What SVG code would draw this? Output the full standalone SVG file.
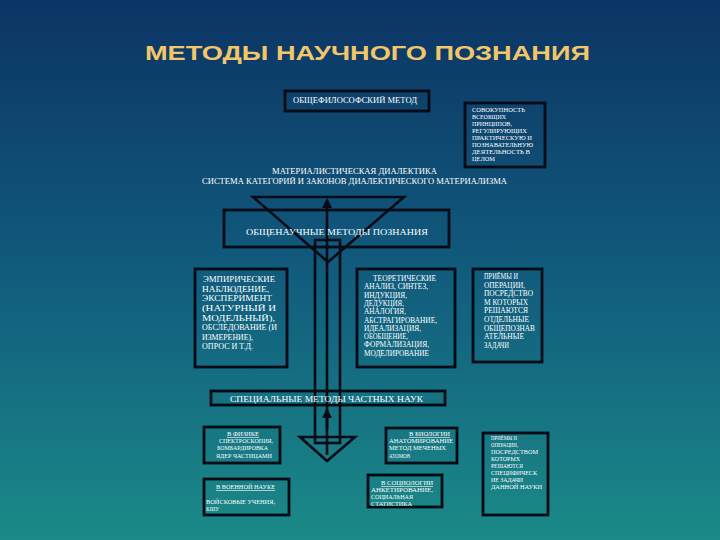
<svg xmlns="http://www.w3.org/2000/svg" width="720" height="540" viewBox="0 0 720 540">
<defs>
<linearGradient id="bg" x1="0" y1="0" x2="0" y2="1">
<stop offset="0" stop-color="#0c3464"/>
<stop offset="0.5" stop-color="#115b7d"/>
<stop offset="1" stop-color="#1b8a88"/>
</linearGradient>
<marker id="ah" viewBox="0 0 10 10" refX="8" refY="5" markerWidth="4" markerHeight="4" orient="auto">
<path d="M0,0 L10,5 L0,10 z" fill="#060a14"/>
</marker>
</defs>
<style>
.box{fill:none;stroke:#070b16;stroke-width:2.8}
.ln{fill:none;stroke:#070b16;stroke-width:2.6}
.t{font-family:"Liberation Serif","DejaVu Serif",serif;fill:#ffffff;font-size:8.2px}
.c{font-family:"Liberation Serif","DejaVu Serif",serif;fill:#ffffff;font-size:7.6px}
.s{font-family:"Liberation Serif","DejaVu Serif",serif;fill:#ffffff;font-size:6.2px}
.u{text-decoration:underline}
.title{font-family:"Liberation Sans","DejaVu Sans",sans-serif;font-weight:bold;font-size:21px;fill:#f3c66a}
</style>
<rect x="0" y="0" width="720" height="540" fill="url(#bg)"/>
<text class="title" x="145" y="60" textLength="445" lengthAdjust="spacingAndGlyphs">МЕТОДЫ НАУЧНОГО ПОЗНАНИЯ</text>

<g id="connectors">
<polygon class="ln" points="253,197 404,197 328,262"/>
<rect class="ln" x="315" y="240" width="25" height="203"/>
<polygon class="ln" points="300,437 355,437 327,461"/>
<line class="ln" x1="327" y1="455" x2="327" y2="200" marker-end="url(#ah)"/>
<line class="ln" x1="327" y1="430" x2="327" y2="410" marker-end="url(#ah)"/>
</g>

<g id="philos">
<rect class="box" x="285" y="91" width="144" height="20"/>
<text class="t" x="293" y="103" textLength="124" lengthAdjust="spacingAndGlyphs">ОБЩЕФИЛОСОФСКИЙ МЕТОД</text>
</g>

<g id="philos-note">
<rect class="box" x="465" y="103" width="80" height="64"/>
<text class="s" x="472" y="112" textLength="53" lengthAdjust="spacingAndGlyphs">СОВОКУПНОСТЬ</text>
<text class="s" x="472" y="119" textLength="34" lengthAdjust="spacingAndGlyphs">ВСЕОБЩИХ</text>
<text class="s" x="472" y="126" textLength="40" lengthAdjust="spacingAndGlyphs">ПРИНЦИПОВ,</text>
<text class="s" x="472" y="133" textLength="55" lengthAdjust="spacingAndGlyphs">РЕГУЛИРУЮЩИХ</text>
<text class="s" x="472" y="140" textLength="60" lengthAdjust="spacingAndGlyphs">ПРАКТИЧЕСКУЮ И</text>
<text class="s" x="472" y="147" textLength="61" lengthAdjust="spacingAndGlyphs">ПОЗНАВАТЕЛЬНУЮ</text>
<text class="s" x="472" y="154" textLength="58" lengthAdjust="spacingAndGlyphs">ДЕЯТЕЛЬНОСТЬ В</text>
<text class="s" x="472" y="161" textLength="23" lengthAdjust="spacingAndGlyphs">ЦЕЛОМ</text>
</g>

<g id="dialectic">
<text class="t" x="272" y="174" textLength="165" lengthAdjust="spacingAndGlyphs">МАТЕРИАЛИСТИЧЕСКАЯ ДИАЛЕКТИКА</text>
<text class="t" x="202" y="184" textLength="305" lengthAdjust="spacingAndGlyphs">СИСТЕМА КАТЕГОРИЙ И ЗАКОНОВ ДИАЛЕКТИЧЕСКОГО МАТЕРИАЛИЗМА</text>
</g>

<g id="general">
<rect class="box" x="224" y="210" width="225" height="37"/>
<text class="t" x="246" y="235" textLength="182" lengthAdjust="spacingAndGlyphs">ОБЩЕНАУЧНЫЕ   МЕТОДЫ ПОЗНАНИЯ</text>
</g>

<g id="empirical">
<rect class="box" x="195" y="269" width="92" height="98"/>
<text class="t" x="203" y="282" textLength="72" lengthAdjust="spacingAndGlyphs">ЭМПИРИЧЕСКИЕ</text>
<text class="t" x="202" y="291.5" textLength="67" lengthAdjust="spacingAndGlyphs">НАБЛЮДЕНИЕ,</text>
<text class="t" x="202" y="301" textLength="70" lengthAdjust="spacingAndGlyphs">ЭКСПЕРИМЕНТ</text>
<text class="t" x="202" y="311" textLength="74" lengthAdjust="spacingAndGlyphs">(НАТУРНЫЙ И</text>
<text class="t" x="202" y="320.5" textLength="73" lengthAdjust="spacingAndGlyphs">МОДЕЛЬНЫЙ),</text>
<text class="t" x="202" y="330" textLength="75" lengthAdjust="spacingAndGlyphs">ОБСЛЕДОВАНИЕ (И</text>
<text class="t" x="202" y="339.5" textLength="51" lengthAdjust="spacingAndGlyphs">ИЗМЕРЕНИЕ),</text>
<text class="t" x="202" y="349" textLength="51" lengthAdjust="spacingAndGlyphs">ОПРОС И Т.Д.</text>
</g>

<g id="theoretical">
<rect class="box" x="357" y="269" width="98" height="98"/>
<text class="c" x="373" y="281" textLength="63" lengthAdjust="spacingAndGlyphs">ТЕОРЕТИЧЕСКИЕ</text>
<text class="c" x="364" y="289.3" textLength="64" lengthAdjust="spacingAndGlyphs">АНАЛИЗ, СИНТЕЗ,</text>
<text class="c" x="364" y="297.6" textLength="43" lengthAdjust="spacingAndGlyphs">ИНДУКЦИЯ,</text>
<text class="c" x="364" y="305.9" textLength="40" lengthAdjust="spacingAndGlyphs">ДЕДУКЦИЯ,</text>
<text class="c" x="364" y="314.2" textLength="42" lengthAdjust="spacingAndGlyphs">АНАЛОГИЯ,</text>
<text class="c" x="364" y="322.5" textLength="73" lengthAdjust="spacingAndGlyphs">АБСТРАГИРОВАНИЕ,</text>
<text class="c" x="364" y="330.8" textLength="57" lengthAdjust="spacingAndGlyphs">ИДЕАЛИЗАЦИЯ,</text>
<text class="c" x="364" y="339.1" textLength="44" lengthAdjust="spacingAndGlyphs">ОБОБЩЕНИЕ,</text>
<text class="c" x="364" y="347.4" textLength="65" lengthAdjust="spacingAndGlyphs">ФОРМАЛИЗАЦИЯ,</text>
<text class="c" x="364" y="355.7" textLength="65" lengthAdjust="spacingAndGlyphs">МОДЕЛИРОВАНИЕ</text>
</g>

<g id="general-note">
<rect class="box" x="473" y="269" width="69" height="93"/>
<text class="c" x="484" y="279" textLength="34" lengthAdjust="spacingAndGlyphs">ПРИЁМЫ И</text>
<text class="c" x="484" y="287.6" textLength="41" lengthAdjust="spacingAndGlyphs">ОПЕРАЦИИ,</text>
<text class="c" x="484" y="296.2" textLength="49" lengthAdjust="spacingAndGlyphs">ПОСРЕДСТВО</text>
<text class="c" x="484" y="304.8" textLength="44" lengthAdjust="spacingAndGlyphs">М КОТОРЫХ</text>
<text class="c" x="484" y="313.4" textLength="44" lengthAdjust="spacingAndGlyphs">РЕШАЮТСЯ</text>
<text class="c" x="484" y="322" textLength="45" lengthAdjust="spacingAndGlyphs">ОТДЕЛЬНЫЕ</text>
<text class="c" x="484" y="330.6" textLength="51" lengthAdjust="spacingAndGlyphs">ОБЩЕПОЗНАВ</text>
<text class="c" x="484" y="339.2" textLength="40" lengthAdjust="spacingAndGlyphs">АТЕЛЬНЫЕ</text>
<text class="c" x="484" y="347.8" textLength="25" lengthAdjust="spacingAndGlyphs">ЗАДАЧИ</text>
</g>

<g id="special">
<rect class="box" x="211" y="391" width="234" height="14"/>
<text class="t" x="230" y="401.5" textLength="193" lengthAdjust="spacingAndGlyphs">СПЕЦИАЛЬНЫЕ МЕТОДЫ ЧАСТНЫХ НАУК</text>
</g>

<g id="physics">
<rect class="box" x="204" y="427" width="76" height="36"/>
<text class="s u" x="227" y="436" textLength="32" lengthAdjust="spacingAndGlyphs">В ФИЗИКЕ</text>
<text class="s" x="219" y="442.5" textLength="54" lengthAdjust="spacingAndGlyphs">СПЕКТРОСКОПИЯ,</text>
<text class="s" x="217" y="450" textLength="51" lengthAdjust="spacingAndGlyphs">БОМБАРДИРОВКА</text>
<text class="s" x="216" y="457.5" textLength="56" lengthAdjust="spacingAndGlyphs">ЯДЕР ЧАСТИЦАМИ</text>
</g>

<g id="military">
<rect class="box" x="204" y="479" width="85" height="36"/>
<text class="s u" x="216" y="489" textLength="59" lengthAdjust="spacingAndGlyphs">В ВОЕННОЙ НАУКЕ</text>
<text class="s" x="206" y="504" textLength="69" lengthAdjust="spacingAndGlyphs">ВОЙСКОВЫЕ УЧЕНИЯ,</text>
<text class="s" x="206" y="511" textLength="13" lengthAdjust="spacingAndGlyphs">КШУ</text>
</g>

<g id="biology">
<rect class="box" x="386" y="428" width="71" height="35"/>
<text class="s u" x="409" y="436" textLength="41" lengthAdjust="spacingAndGlyphs">В БИОЛОГИИ</text>
<text class="s" x="389" y="442.5" textLength="64" lengthAdjust="spacingAndGlyphs">АНАТОМИРОВАНИЕ</text>
<text class="s" x="389" y="450" textLength="57" lengthAdjust="spacingAndGlyphs">МЕТОД МЕЧЕНЫХ</text>
<text class="s" x="389" y="457.5" textLength="21" lengthAdjust="spacingAndGlyphs">АТОМОВ</text>
</g>

<g id="sociology">
<rect class="box" x="368" y="475" width="74" height="32"/>
<text class="s u" x="381" y="485" textLength="52" lengthAdjust="spacingAndGlyphs">В СОЦИОЛОГИИ</text>
<text class="s" x="371" y="491.5" textLength="62" lengthAdjust="spacingAndGlyphs">АНКЕТИРОВАНИЕ,</text>
<text class="s" x="371" y="498.5" textLength="42" lengthAdjust="spacingAndGlyphs">СОЦИАЛЬНАЯ</text>
<text class="s" x="371" y="505.5" textLength="41" lengthAdjust="spacingAndGlyphs">СТАТИСТИКА</text>
</g>

<g id="special-note">
<rect class="box" x="483" y="433" width="65" height="82"/>
<text class="s" x="491" y="440" textLength="26" lengthAdjust="spacingAndGlyphs">ПРИЁМЫ И</text>
<text class="s" x="491" y="447" textLength="27" lengthAdjust="spacingAndGlyphs">ОПЕРАЦИИ,</text>
<text class="s" x="491" y="454" textLength="47" lengthAdjust="spacingAndGlyphs">ПОСРЕДСТВОМ</text>
<text class="s" x="491" y="461" textLength="29" lengthAdjust="spacingAndGlyphs">КОТОРЫХ</text>
<text class="s" x="491" y="468" textLength="32" lengthAdjust="spacingAndGlyphs">РЕШАЮТСЯ</text>
<text class="s" x="491" y="475" textLength="46" lengthAdjust="spacingAndGlyphs">СПЕЦИФИЧЕСК</text>
<text class="s" x="491" y="482" textLength="32" lengthAdjust="spacingAndGlyphs">ИЕ ЗАДАЧИ</text>
<text class="s" x="491" y="489" textLength="51" lengthAdjust="spacingAndGlyphs">ДАННОЙ НАУКИ</text>
</g>
</svg>
